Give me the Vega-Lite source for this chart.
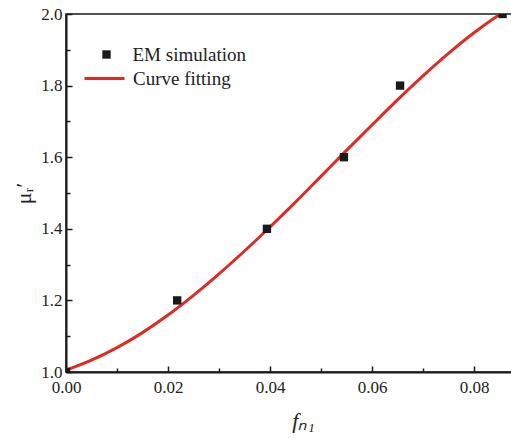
{
  "$schema": "https://vega.github.io/schema/vega-lite/v6.json",
  "width": 446,
  "height": 358,
  "autosize": "none",
  "padding": {"left": 66, "top": 14, "right": 0, "bottom": 66},
  "background": "white",
  "config": {
    "view": {"stroke": "#1a1a1a", "strokeWidth": 1.5},
    "font": "Liberation Serif",
    "axis": {
      "labelFont": "Times New Roman, Liberation Serif, serif",
      "titleFont": "Liberation Serif",
      "labelFontSize": 17,
      "labelColor": "#222222",
      "titleColor": "#222222",
      "domainColor": "#1a1a1a",
      "domainWidth": 2,
      "tickColor": "#1a1a1a",
      "tickWidth": 1.5,
      "grid": false
    },
    "legend": {
      "labelFont": "Liberation Serif",
      "labelFontSize": 19,
      "labelColor": "#222222",
      "padding": 0
    }
  },
  "datasets": {
    "sim": [
      {"f": 0.0, "mu": 1.0, "series": "EM simulation"},
      {"f": 0.0218, "mu": 1.2, "series": "EM simulation"},
      {"f": 0.0394, "mu": 1.4, "series": "EM simulation"},
      {"f": 0.0545, "mu": 1.6, "series": "EM simulation"},
      {"f": 0.0655, "mu": 1.8, "series": "EM simulation"},
      {"f": 0.0856, "mu": 2.0, "series": "EM simulation"}
    ],
    "fit": [
      {"f": 0.0, "mu": 1.005, "series": "Curve fitting"},
      {"f": 0.005, "mu": 1.033, "series": "Curve fitting"},
      {"f": 0.01, "mu": 1.068, "series": "Curve fitting"},
      {"f": 0.015, "mu": 1.11, "series": "Curve fitting"},
      {"f": 0.02, "mu": 1.159, "series": "Curve fitting"},
      {"f": 0.025, "mu": 1.214, "series": "Curve fitting"},
      {"f": 0.03, "mu": 1.274, "series": "Curve fitting"},
      {"f": 0.035, "mu": 1.338, "series": "Curve fitting"},
      {"f": 0.04, "mu": 1.405, "series": "Curve fitting"},
      {"f": 0.045, "mu": 1.4745, "series": "Curve fitting"},
      {"f": 0.05, "mu": 1.5465, "series": "Curve fitting"},
      {"f": 0.055, "mu": 1.619, "series": "Curve fitting"},
      {"f": 0.06, "mu": 1.69, "series": "Curve fitting"},
      {"f": 0.065, "mu": 1.76, "series": "Curve fitting"},
      {"f": 0.07, "mu": 1.827, "series": "Curve fitting"},
      {"f": 0.075, "mu": 1.89, "series": "Curve fitting"},
      {"f": 0.08, "mu": 1.9475, "series": "Curve fitting"},
      {"f": 0.085, "mu": 1.9985, "series": "Curve fitting"},
      {"f": 0.0875, "mu": 2.022, "series": "Curve fitting"}
    ]
  },
  "encoding": {
    "x": {
      "field": "f",
      "type": "quantitative",
      "scale": {"domain": [0, 0.08745], "nice": false, "zero": false},
      "axis": {
        "title": "fₙ₁",
        "titleFont": "Liberation Serif",
        "titleFontSize": 22,
        "titleFontStyle": "italic",
        "titleFontWeight": "normal",
        "titlePadding": 13,
        "titleX": 237,
        "labelFont": "Times New Roman, Liberation Serif, serif",
        "values": [0, 0.01, 0.02, 0.03, 0.04, 0.05, 0.06, 0.07, 0.08],
        "labelExpr": "round(datum.value*100) % 2 == 0 ? format(datum.value, '.2f') : ''",
        "tickSize": {"condition": {"test": "round(datum.value*100) % 2 == 0", "value": -6}, "value": -4},
        "labelPadding": 13,
        "labelFlush": false,
        "labelOverlap": false
      }
    },
    "y": {
      "field": "mu",
      "type": "quantitative",
      "scale": {"domain": [1.0, 2.0], "nice": false, "zero": false},
      "axis": {
        "title": "μᵣ′",
        "titleFont": "Liberation Serif",
        "titleFontSize": 22,
        "titleFontWeight": "normal",
        "titlePadding": 5,
        "labelFont": "Times New Roman, Liberation Serif, serif",
        "values": [1.0, 1.1, 1.2, 1.3, 1.4, 1.5, 1.6, 1.7, 1.8, 1.9, 2.0],
        "labelExpr": "round(datum.value*10) % 2 == 0 ? format(datum.value, '.1f') : ''",
        "tickSize": {"condition": {"test": "round(datum.value*10) % 2 == 0", "value": -6}, "value": -4},
        "labelPadding": 10,
        "labelFlush": false,
        "labelOverlap": false
      }
    }
  },
  "layer": [
    {
      "data": {"name": "fit"},
      "mark": {"type": "line", "strokeWidth": 3, "clip": true, "interpolate": "monotone"},
      "encoding": {
        "color": {
          "field": "series",
          "type": "nominal",
          "scale": {"range": ["#dd2c24"]},
          "legend": {
            "orient": "none",
            "legendX": 17,
            "legendY": 43,
            "title": null,
            "symbolType": "stroke",
            "symbolSize": 1600,
            "symbolStrokeWidth": 3,
            "labelOffset": 7
          }
        }
      }
    },
    {
      "data": {"name": "sim"},
      "mark": {"type": "point", "filled": true, "color": "#1a1a1a", "opacity": 1, "clip": true},
      "encoding": {
        "shape": {
          "field": "series",
          "type": "nominal",
          "scale": {"range": ["square"]},
          "legend": {
            "orient": "none",
            "legendX": 31,
            "legendY": 31,
            "title": null,
            "symbolSize": 70,
            "symbolFillColor": "#1a1a1a",
            "symbolStrokeWidth": 0,
            "labelOffset": 16.5
          }
        },
        "size": {"value": 70}
      }
    }
  ]
}
